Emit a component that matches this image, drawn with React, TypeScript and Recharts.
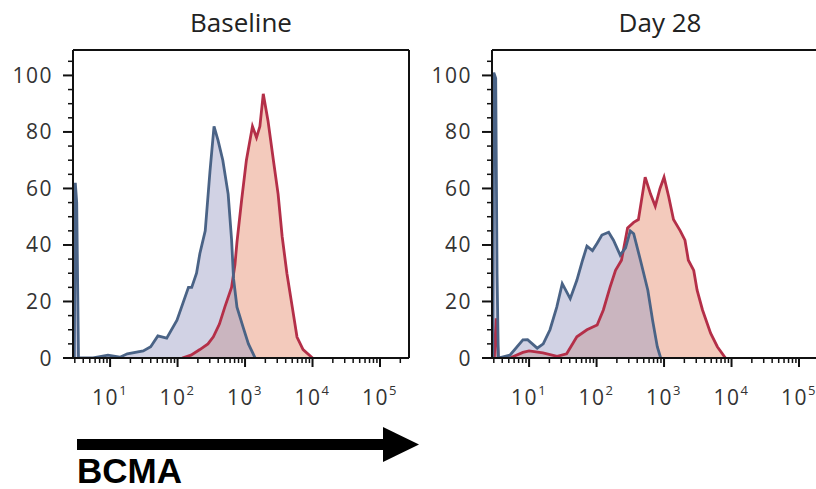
import { AreaChart, Area, XAxis, YAxis, ReferenceLine } from "recharts"

// BCMA intensity (linear units) vs. % of max
const baselineRed = [
  { x: 117, y: 0 }, { x: 158, y: 1 }, { x: 214, y: 3 }, { x: 282, y: 5 },
  { x: 339, y: 7.5 }, { x: 417, y: 12 }, { x: 501, y: 18 }, { x: 631, y: 25 },
  { x: 708, y: 33 }, { x: 759, y: 41 }, { x: 891, y: 56 }, { x: 1047, y: 70 },
  { x: 1288, y: 82 }, { x: 1479, y: 78 }, { x: 1660, y: 82 }, { x: 1862, y: 93.5 },
  { x: 2188, y: 84 }, { x: 2630, y: 70 }, { x: 3090, y: 58 }, { x: 3548, y: 43 },
  { x: 4169, y: 30 }, { x: 5012, y: 18 }, { x: 5888, y: 7.4 }, { x: 7244, y: 3 },
  { x: 10000, y: 0 },
]

const baselineBlue = [
  { x: 2.95, y: 0 }, { x: 3.05, y: 62 }, { x: 3.2, y: 55 }, { x: 3.4, y: 0 },
  { x: 5.6, y: 0 }, { x: 9.3, y: 1 }, { x: 14, y: 0.3 }, { x: 18, y: 1.5 },
  { x: 31, y: 2.5 }, { x: 40, y: 4 }, { x: 51, y: 7.8 }, { x: 69, y: 7 },
  { x: 98, y: 13.4 }, { x: 145, y: 25 }, { x: 162, y: 25 }, { x: 191, y: 30 },
  { x: 214, y: 37 }, { x: 257, y: 45 }, { x: 302, y: 66 }, { x: 347, y: 82 },
  { x: 398, y: 77 }, { x: 468, y: 70 }, { x: 562, y: 58 }, { x: 631, y: 42 },
  { x: 676, y: 28 }, { x: 759, y: 18 }, { x: 933, y: 11 }, { x: 1122, y: 5 },
  { x: 1413, y: 0 },
]

const day28Red = [
  { x: 3.05, y: 0 }, { x: 3.25, y: 14 }, { x: 3.5, y: 0 },
  { x: 5.2, y: 0 }, { x: 8.1, y: 2 }, { x: 10, y: 2.5 }, { x: 16, y: 1.8 },
  { x: 26, y: 0.6 }, { x: 36, y: 1.5 }, { x: 51, y: 7.5 }, { x: 72, y: 10 },
  { x: 102, y: 11.7 }, { x: 126, y: 17 }, { x: 158, y: 25 }, { x: 191, y: 31 },
  { x: 234, y: 34.6 }, { x: 288, y: 46 }, { x: 355, y: 48 }, { x: 417, y: 49 },
  { x: 479, y: 58 }, { x: 525, y: 64 }, { x: 631, y: 58 }, { x: 741, y: 53.7 },
  { x: 871, y: 60 }, { x: 1000, y: 64 }, { x: 1175, y: 57 }, { x: 1380, y: 49 },
  { x: 1738, y: 45 }, { x: 2042, y: 41.7 }, { x: 2291, y: 34.6 }, { x: 2754, y: 31 },
  { x: 3090, y: 24 }, { x: 3715, y: 17 }, { x: 4898, y: 8.8 }, { x: 6166, y: 4 },
  { x: 8128, y: 0 },
]

const day28Blue = [
  { x: 2.9, y: 0 }, { x: 3.0, y: 101 }, { x: 3.2, y: 99 }, { x: 3.35, y: 30 },
  { x: 3.5, y: 0 }, { x: 5.2, y: 1 }, { x: 8.1, y: 6.4 }, { x: 9.5, y: 6.5 },
  { x: 13.2, y: 3.5 }, { x: 16.2, y: 5 }, { x: 20.4, y: 10 }, { x: 25.7, y: 18 },
  { x: 31, y: 26.3 }, { x: 40.7, y: 21 }, { x: 51, y: 27.5 }, { x: 62, y: 34.6 },
  { x: 72, y: 39.6 }, { x: 87, y: 38 }, { x: 102, y: 40.6 }, { x: 120, y: 43.5 },
  { x: 151, y: 44.5 }, { x: 178, y: 41.7 }, { x: 224, y: 36.4 }, { x: 269, y: 39 },
  { x: 316, y: 45 }, { x: 355, y: 44 }, { x: 447, y: 34.6 }, { x: 575, y: 24 },
  { x: 676, y: 13.4 }, { x: 794, y: 4 }, { x: 891, y: 0 },
]

const X_MIN = 2.82
const X_MAX = 269000
const Y_MAX = 109

const yMajor = [0, 20, 40, 60, 80, 100]
const yTicks = [0, 5, 10, 15, 20, 25, 30, 35, 40, 45, 50, 55, 60, 65, 70, 75, 80, 85, 90, 95, 100, 105]

// decades with minor ticks at 2..9
const xTicks: number[] = []
for (let n = 0; n <= 5; n++) {
  for (let k = 1; k <= 9; k++) {
    const v = k * Math.pow(10, n)
    if (v >= X_MIN && v <= X_MAX) xTicks.push(v)
  }
}

// plot box inside each 420x420 chart
const PLOT_LEFT = 73
const PLOT_BOTTOM = 358

const tickFont = "'Open Sans', sans-serif"
const RED_LINE = "#b42f48"
const BLUE_LINE = "#4a6386"

const XTick = (props: any) => {
  const { x, payload } = props
  const y = PLOT_BOTTOM
  const lg = Math.log10(payload.value)
  const major = Math.abs(lg - Math.round(lg)) < 1e-6
  return (
    <g>
      <line x1={x} x2={x} y1={y} y2={y + (major ? 9 : 5)} stroke="#111" strokeWidth={major ? 2 : 1.5} />
      {major && (
        <text x={x} y={y + 47} textAnchor="middle" fontFamily={tickFont} fontSize={21} fill="#333" letterSpacing={1.5}>
          10<tspan dy={-10} fontSize={13}>{Math.round(lg)}</tspan>
        </text>
      )}
    </g>
  )
}

const YTick = (props: any) => {
  const { y, payload } = props
  const x = PLOT_LEFT
  const major = yMajor.includes(payload.value)
  return (
    <g>
      <line x1={x - (major ? 10 : 5)} x2={x} y1={y} y2={y} stroke="#111" strokeWidth={major ? 2 : 1.5} />
      {major && (
        <text x={x - 20} y={y + 7.5} textAnchor="end" fontFamily={tickFont} fontSize={21} fill="#333" letterSpacing={1.5}>
          {payload.value}
        </text>
      )}
    </g>
  )
}

function Histogram({ left, red, blue }: { left: number; red: any[]; blue: any[] }) {
  return (
    <div style={{ position: "absolute", left, top: 0 }}>
      <AreaChart width={420} height={420} margin={{ top: 50, left: 0, right: 11, bottom: 0 }}>
        <XAxis
          type="number"
          dataKey="x"
          scale="log"
          domain={[X_MIN, X_MAX]}
          allowDataOverflow
          ticks={xTicks}
          interval={0}
          tick={(p: any) => <XTick {...p} />}
          tickLine={false}
          tickSize={0}
          tickMargin={0}
          height={62}
          axisLine={{ stroke: "#111", strokeWidth: 2 }}
        />
        <YAxis
          type="number"
          domain={[0, Y_MAX]}
          allowDataOverflow
          ticks={yTicks}
          interval={0}
          tick={(p: any) => <YTick {...p} />}
          tickLine={false}
          tickSize={0}
          tickMargin={0}
          width={73}
          axisLine={{ stroke: "#111", strokeWidth: 2 }}
        />
        {/* fills first, outlines on top */}
        <Area data={red} dataKey="y" type="linear" stroke="none" fill="#e8967a" fillOpacity={0.5}
          isAnimationActive={false} dot={false} activeDot={false} />
        <Area data={blue} dataKey="y" type="linear" stroke="none" fill="#9a9cc4" fillOpacity={0.45}
          isAnimationActive={false} dot={false} activeDot={false} />
        <Area data={red} dataKey="y" type="linear" stroke={RED_LINE} strokeWidth={2.8} fill="none"
          isAnimationActive={false} dot={false} activeDot={false} />
        <Area data={blue} dataKey="y" type="linear" stroke={BLUE_LINE} strokeWidth={2.8} fill="none"
          isAnimationActive={false} dot={false} activeDot={false} />
        <ReferenceLine y={Y_MAX} stroke="#111" strokeWidth={2} />
        <ReferenceLine x={X_MAX} stroke="#111" strokeWidth={2} />
      </AreaChart>
    </div>
  )
}

export default function App() {
  return (
    <div style={{ position: "fixed", left: 0, top: 0, width: 816, height: 489, overflow: "hidden", background: "#fff" }}>
      <Histogram left={0} red={baselineRed} blue={baselineBlue} />
      <Histogram left={419} red={day28Red} blue={day28Blue} />
      <svg width={816} height={489} style={{ position: "absolute", left: 0, top: 0, pointerEvents: "none" }}>
        <text x={241} y={32} textAnchor="middle" fontFamily={tickFont} fontSize={26} fill="#222">Baseline</text>
        <text x={660} y={32} textAnchor="middle" fontFamily={tickFont} fontSize={26} fill="#222">Day 28</text>
        <rect x={77} y={439} width={307} height={11} fill="#000" />
        <polygon points="383,427 419,444.5 383,462" fill="#000" />
        <text x={77} y={483} fontFamily="'Liberation Sans', Arial, sans-serif" fontWeight="bold" fontSize={35} fill="#000">BCMA</text>
      </svg>
    </div>
  )
}
